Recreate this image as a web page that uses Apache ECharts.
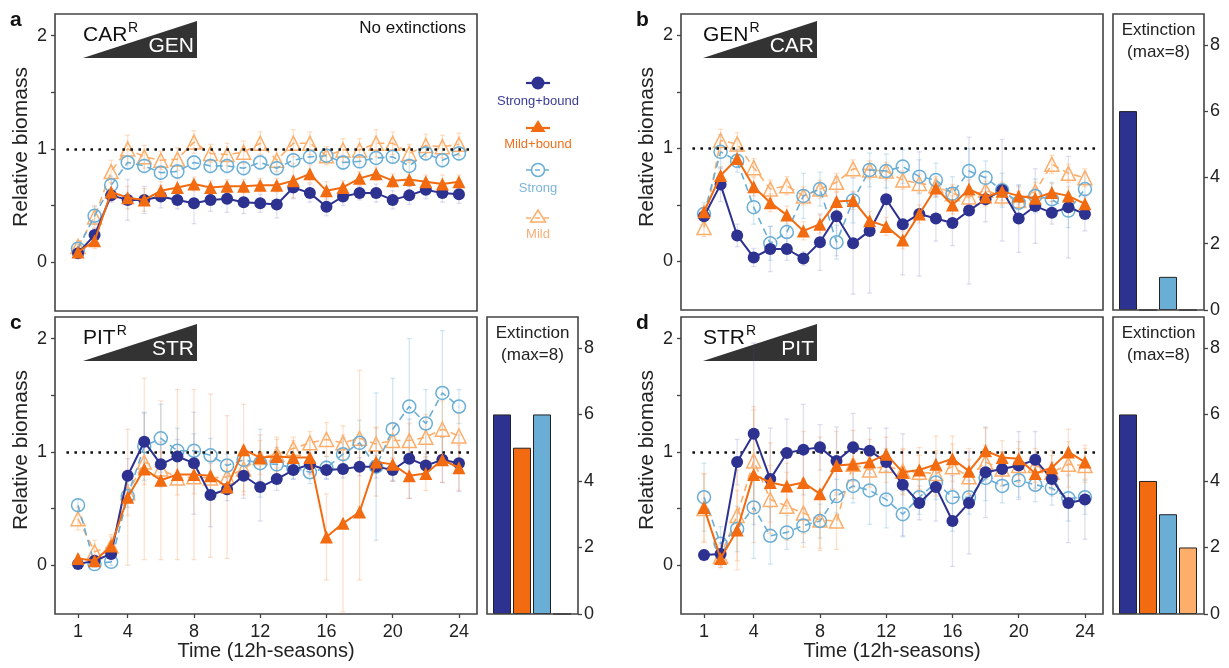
<!DOCTYPE html>
<html>
<head>
<meta charset="utf-8">
<script src="https://cdn.jsdelivr.net/npm/echarts@6/dist/echarts.min.js"></script>
<style>
  html, body { margin: 0; padding: 0; background: #fff; }
  #chart { width: 1229px; height: 668px; }
</style>
</head>
<body>
<div id="chart"></div>
<script>
// ---- time axis and tick labels ----
const seasons = [1,2,3,4,5,6,7,8,9,10,11,12,13,14,15,16,17,18,19,20,21,22,23,24];
const seasonTickLabels = [1,4,8,12,16,20,24];
const biomassTickMarks = [0,0.5,1,1.5,2];
const biomassTickLabels = [0,1,2];
const extinctionTickLabels = [0,2,4,6,8];
const treatments = ['Strong+bound','Mild+bound','Strong','Mild'];

// ---- a: CAR(R) -> GEN ----
const carGen_strongBound = [0.08,0.24,0.59,0.55,0.55,0.58,0.55,0.52,0.55,0.56,0.53,0.52,0.51,0.66,0.61,0.49,0.58,0.61,0.61,0.55,0.59,0.64,0.61,0.60];
const carGen_mildBound   = [0.09,0.19,0.62,0.57,0.55,0.63,0.66,0.69,0.66,0.67,0.67,0.68,0.68,0.72,0.78,0.63,0.66,0.74,0.78,0.72,0.73,0.71,0.69,0.71];
const carGen_strong      = [0.12,0.41,0.68,0.88,0.85,0.79,0.80,0.88,0.85,0.85,0.83,0.88,0.83,0.90,0.93,0.94,0.88,0.89,0.92,0.93,0.85,0.96,0.90,0.96];
const carGen_mild        = [0.14,0.40,0.80,1.00,0.93,0.90,0.91,1.06,0.96,0.95,0.97,1.05,0.90,1.05,1.05,0.94,0.99,0.99,1.05,1.05,0.96,1.03,1.02,1.04];
const carGen_strongBoundErr = [0.03,0.06,0.06,0.18,0.12,0.10,0.08,0.18,0.10,0.12,0.10,0.08,0.12,0.10,0.08,0.08,0.08,0.06,0.08,0.08,0.08,0.08,0.08,0.08];
const carGen_mildBoundErr   = [0.03,0.07,0.08,0.10,0.10,0.08,0.08,0.06,0.06,0.06,0.06,0.06,0.06,0.15,0.08,0.08,0.06,0.06,0.06,0.06,0.06,0.06,0.08,0.06];
const carGen_strongErr      = [0.04,0.08,0.08,0.06,0.06,0.06,0.06,0.06,0.06,0.06,0.06,0.06,0.06,0.06,0.06,0.06,0.06,0.06,0.06,0.06,0.06,0.06,0.06,0.06];
const carGen_mildErr        = [0.05,0.10,0.10,0.12,0.10,0.08,0.10,0.10,0.08,0.10,0.10,0.10,0.10,0.12,0.10,0.08,0.10,0.10,0.12,0.10,0.08,0.10,0.10,0.10];

// ---- b: GEN(R) -> CAR ----
const genCar_strongBound = [0.40,0.68,0.23,0.035,0.11,0.11,0.025,0.17,0.40,0.16,0.27,0.55,0.33,0.42,0.38,0.34,0.45,0.55,0.63,0.38,0.49,0.43,0.48,0.42];
const genCar_mildBound   = [0.44,0.76,0.91,0.66,0.52,0.41,0.27,0.33,0.53,0.54,0.36,0.31,0.19,0.42,0.65,0.50,0.64,0.57,0.62,0.58,0.56,0.61,0.58,0.51];
const genCar_strong      = [0.42,0.97,0.89,0.48,0.16,0.26,0.58,0.64,0.17,0.54,0.81,0.80,0.84,0.75,0.72,0.60,0.80,0.74,0.63,0.52,0.58,0.55,0.45,0.64];
const genCar_mild        = [0.30,1.07,1.04,0.83,0.64,0.67,0.58,0.64,0.70,0.82,0.81,0.80,0.72,0.69,0.67,0.60,0.57,0.63,0.58,0.54,0.62,0.86,0.78,0.74];
const genCar_strongBoundErr = [0.05,0.15,0.10,0.08,0.20,0.10,0.06,0.25,0.35,0.45,0.55,0.25,0.45,0.55,0.20,0.20,0.65,0.20,0.45,0.30,0.33,0.10,0.45,0.15];
const genCar_mildBoundErr   = [0.06,0.08,0.08,0.08,0.08,0.08,0.08,0.08,0.08,0.08,0.08,0.08,0.08,0.08,0.08,0.08,0.08,0.08,0.08,0.08,0.08,0.08,0.08,0.08];
const genCar_strongErr      = [0.10,0.15,0.10,0.15,0.15,0.15,0.20,0.15,0.15,0.20,0.15,0.15,0.15,0.15,0.15,0.15,0.20,0.15,0.15,0.15,0.15,0.15,0.15,0.15];
const genCar_mildErr        = [0.08,0.10,0.10,0.08,0.08,0.08,0.08,0.08,0.08,0.08,0.08,0.08,0.08,0.08,0.08,0.08,0.08,0.08,0.08,0.08,0.08,0.08,0.08,0.08];

// ---- c: PIT(R) -> STR ----
const pitStr_strongBound = [0.01,0.04,0.10,0.79,1.09,0.89,0.96,0.90,0.62,0.67,0.79,0.69,0.76,0.84,0.89,0.84,0.85,0.87,0.87,0.84,0.94,0.88,0.93,0.90];
const pitStr_mildBound   = [0.06,0.04,0.17,0.60,0.85,0.75,0.80,0.80,0.79,0.69,1.02,0.95,0.96,0.95,0.95,0.25,0.37,0.47,0.91,0.89,0.79,0.81,0.93,0.86];
const pitStr_strong      = [0.53,0.01,0.03,0.61,1.05,1.12,1.01,1.01,0.97,0.88,0.93,0.90,0.89,0.86,0.82,0.86,0.98,1.08,0.87,1.20,1.40,1.25,1.52,1.40];
const pitStr_mild        = [0.41,0.12,0.17,0.64,0.91,0.85,0.77,0.78,0.77,0.78,0.85,0.95,0.98,1.03,1.08,1.11,1.08,1.12,1.07,1.10,1.10,1.13,1.20,1.14];
const pitStr_strongBoundErr = [0.02,0.03,0.05,0.15,0.25,0.20,0.15,0.45,0.28,0.10,0.20,0.30,0.10,0.08,0.08,0.08,0.08,0.08,0.10,0.10,0.35,0.10,0.20,0.25];
const pitStr_mildBoundErr   = [0.03,0.03,0.08,0.60,0.80,0.70,0.75,0.75,0.72,0.63,0.40,0.20,0.15,0.15,0.15,0.38,0.78,0.60,0.30,0.15,0.20,0.15,0.20,0.20];
const pitStr_strongErr      = [0.05,0.03,0.03,0.10,0.30,0.30,0.20,0.15,0.15,0.10,0.10,0.30,0.15,0.10,0.10,0.10,0.15,0.20,0.65,0.45,0.60,0.30,0.55,0.15];
const pitStr_mildErr        = [0.10,0.10,0.10,0.20,0.20,0.15,0.15,0.15,0.15,0.15,0.20,0.15,0.15,0.10,0.10,0.15,0.15,0.60,0.15,0.15,0.15,0.20,0.25,0.20];

// ---- d: STR(R) -> PIT ----
const strPit_strongBound = [0.09,0.10,0.91,1.16,0.76,0.99,1.02,1.04,0.92,1.04,1.01,0.91,0.71,0.55,0.69,0.39,0.55,0.82,0.85,0.88,0.93,0.76,0.55,0.58];
const strPit_mildBound   = [0.51,0.06,0.31,0.80,0.73,0.70,0.73,0.63,0.88,0.89,0.91,0.98,0.82,0.84,0.89,0.94,0.83,1.01,0.95,0.94,0.81,0.86,1.00,0.91];
const strPit_strong      = [0.60,0.19,0.32,0.51,0.26,0.29,0.35,0.39,0.61,0.70,0.66,0.58,0.45,0.60,0.73,0.60,0.60,0.77,0.70,0.75,0.71,0.68,0.59,0.60];
const strPit_mild        = [0.50,0.08,0.44,0.92,0.58,0.52,0.46,0.40,0.39,0.89,0.84,0.88,0.83,0.82,0.81,0.87,0.78,0.91,0.85,0.88,0.88,0.82,0.89,0.88];
const strPit_strongBoundErr = [0.05,0.10,0.20,0.80,0.45,0.30,0.40,0.20,0.30,0.30,0.20,0.30,0.45,0.15,0.30,0.40,0.45,0.40,0.15,0.30,0.25,0.15,0.35,0.35];
const strPit_mildBoundErr   = [0.30,0.08,0.35,0.60,0.35,0.20,0.45,0.50,0.30,0.30,0.20,0.15,0.20,0.20,0.25,0.20,0.20,0.20,0.15,0.15,0.15,0.15,0.20,0.15];
const strPit_strongErr      = [0.30,0.15,0.20,0.45,0.25,0.15,0.15,0.15,0.15,0.15,0.30,0.25,0.20,0.15,0.15,0.30,0.15,0.20,0.15,0.15,0.15,0.15,0.20,0.15];
const strPit_mildErr        = [0.30,0.10,0.40,0.45,0.30,0.30,0.30,0.25,0.25,0.20,0.15,0.15,0.20,0.15,0.20,0.20,0.15,0.15,0.15,0.15,0.15,0.15,0.20,0.15];

// ---- extinctions per treatment (out of 8 replicates) ----
const extinction_genCar = [6,0,1,0];
const extinction_pitStr = [6,5,6,0];
const extinction_strPit = [6,4,3,2];

// ---- styling ----
const FONT = "'Liberation Sans', Arial, Helvetica, sans-serif";
const NAVY = '#2d3190', ORANGE = '#f26b10', SKY = '#6aaed6', PEACH = '#fdae6b';

const panels = [
  { letter:'a', left:55,  top:14,  height:297, showX:false, res:'CAR', inv:'GEN',
    data:[carGen_strongBound, carGen_mildBound, carGen_strong, carGen_mild],
    err:[carGen_strongBoundErr, carGen_mildBoundErr, carGen_strongErr, carGen_mildErr], ext:null },
  { letter:'b', left:681, top:14,  height:296, showX:false, res:'GEN', inv:'CAR',
    data:[genCar_strongBound, genCar_mildBound, genCar_strong, genCar_mild],
    err:[genCar_strongBoundErr, genCar_mildBoundErr, genCar_strongErr, genCar_mildErr], ext:extinction_genCar },
  { letter:'c', left:55,  top:317, height:297, showX:true, res:'PIT', inv:'STR',
    data:[pitStr_strongBound, pitStr_mildBound, pitStr_strong, pitStr_mild],
    err:[pitStr_strongBoundErr, pitStr_mildBoundErr, pitStr_strongErr, pitStr_mildErr], ext:extinction_pitStr },
  { letter:'d', left:681, top:317, height:297, showX:true, res:'STR', inv:'PIT',
    data:[strPit_strongBound, strPit_mildBound, strPit_strong, strPit_mild],
    err:[strPit_strongBoundErr, strPit_mildBoundErr, strPit_strongErr, strPit_mildErr], ext:extinction_strPit }
];
const PANEL_W = 422;

// per treatment: mark colour, pale error-bar colour, marker and line look
const seriesStyle = [
  { color:NAVY,   err:'rgba(70,74,170,0.17)',   symbol:'circle',   size:12, hollow:false, dash:'solid', width:2,   z:5 },
  { color:ORANGE, err:'rgba(242,107,16,0.2)',   symbol:'triangle', size:13, hollow:false, dash:'solid', width:2,   z:6 },
  { color:SKY,    err:'rgba(106,174,214,0.3)',  symbol:'circle',   size:13, hollow:true,  dash:[7,5],   width:1.6, z:4 },
  { color:PEACH,  err:'rgba(253,174,107,0.38)', symbol:'triangle', size:14, hollow:true,  dash:[7,5],   width:1.6, z:3 }
];

function errorBars(axisIdx, means, errs, color) {
  return {
    type:'custom', xAxisIndex:axisIdx, yAxisIndex:axisIdx, silent:true, clip:true, z:1,
    data: seasons.map((s, i) => [s, means[i] - errs[i], means[i] + errs[i]]),
    encode: { x:0, y:[1,2] },
    renderItem(params, api) {
      const lo = api.coord([api.value(0), api.value(1)]);
      const hi = api.coord([api.value(0), api.value(2)]);
      const c = 2.5, st = { stroke: color, lineWidth: 1.3 };
      return { type:'group', children:[
        { type:'line', shape:{ x1:lo[0], y1:lo[1], x2:hi[0], y2:hi[1] }, style:st },
        { type:'line', shape:{ x1:lo[0]-c, y1:lo[1], x2:lo[0]+c, y2:lo[1] }, style:st },
        { type:'line', shape:{ x1:hi[0]-c, y1:hi[1], x2:hi[0]+c, y2:hi[1] }, style:st }
      ]};
    }
  };
}

const option = {
  animation:false, backgroundColor:'#fff',
  textStyle:{ fontFamily:FONT },
  grid:[], xAxis:[], yAxis:[], series:[], graphic:[]
};

const tickStyle = { color:'#444', width:1.3 };
const labelStyle = { fontSize:18, color:'#222', fontFamily:FONT };

panels.forEach((p, k) => {
  option.grid.push({ left:p.left, top:p.top, width:PANEL_W, height:p.height,
    show:true, borderColor:'#444', borderWidth:1.6, backgroundColor:'transparent' });
  option.xAxis.push({ type:'value', gridIndex:k, min:-0.39, max:25.09, position:'bottom',
    axisLine:{ show:false, onZero:false }, splitLine:{ show:false },
    axisTick:{ show:p.showX, customValues:seasonTickLabels, length:4, lineStyle:tickStyle },
    axisLabel:{ show:p.showX, customValues:seasonTickLabels, margin:9, ...labelStyle } });
  option.yAxis.push({ type:'value', gridIndex:k, min:-0.43, max:2.19, position:'left',
    axisLine:{ show:false, onZero:false }, splitLine:{ show:false },
    axisTick:{ show:true, customValues:biomassTickMarks, length:4, lineStyle:tickStyle },
    axisLabel:{ customValues:biomassTickLabels, margin:8, ...labelStyle } });

  // error bars underneath everything else
  p.data.forEach((vals, j) => option.series.push(errorBars(k, vals, p.err[j], seriesStyle[j].err)));

  p.data.forEach((vals, j) => {
    const s = seriesStyle[j];
    const ser = {
      type:'line', name:treatments[j], xAxisIndex:k, yAxisIndex:k, z:s.z,
      data: seasons.map((t, i) => [t, vals[i]]),
      symbol:s.symbol, symbolSize:s.size, showSymbol:true,
      lineStyle:{ color:s.color, width:s.width, type:s.dash },
      itemStyle: s.hollow
        ? { color:'rgba(0,0,0,0)', borderColor:s.color, borderWidth:1.5 }
        : { color:s.color, borderColor:s.color, borderWidth:0 },
      emphasis:{ disabled:true }, silent:true
    };
    if (j === 0) {
      ser.markLine = { silent:true, symbol:'none', label:{ show:false },
        lineStyle:{ color:'#111', width:2.6, type:[2.6,5.4] },
        data:[[ { coord:[0.3,1] }, { coord:[24.7,1] } ]] };
    }
    option.series.push(ser);
  });

  // panel letter
  option.graphic.push({ type:'text', x:p.left - 45, y:p.top + 6,
    style:{ text:p.letter, font:`bold 21px ${FONT}`, fill:'#111', textAlign:'left', textVerticalAlign:'middle' } });
  // resident / invader badge
  const bx = p.left + (p.left > 300 ? 22 : 28), by = p.top;
  const resW = { CAR:44, GEN:45.5, PIT:32.7, STR:42 }[p.res];
  option.graphic.push(
    { type:'polygon', shape:{ points:[[bx, by+44],[bx+114, by+7],[bx+114, by+44]] }, style:{ fill:'#333' } },
    { type:'text', x:bx, y:by+21, style:{ text:p.res, font:`21px ${FONT}`, fill:'#111', textAlign:'left', textVerticalAlign:'middle' } },
    { type:'text', x:bx + resW + 1, y:by+14, style:{ text:'R', font:`14px ${FONT}`, fill:'#111', textAlign:'left', textVerticalAlign:'middle' } },
    { type:'text', x:bx+111, y:by+32, style:{ text:p.inv, font:`21px ${FONT}`, fill:'#fff', textAlign:'right', textVerticalAlign:'middle' } }
  );
  // y axis title
  option.graphic.push({ type:'text', x:p.left - 34, y:p.top + 133, rotation:Math.PI/2,
    style:{ text:'Relative biomass', font:`21px ${FONT}`, fill:'#222', textAlign:'center', textVerticalAlign:'middle' } });
  if (p.showX) {
    option.graphic.push({ type:'text', x:p.left + PANEL_W/2, y:p.top + p.height + 37,
      style:{ text:'Time (12h-seasons)', font:`20px ${FONT}`, fill:'#222', textAlign:'center', textVerticalAlign:'middle' } });
  }
});

// extinction bar panels (b, c, d)
const barColors = [NAVY, ORANGE, SKY, PEACH];
panels.forEach((p, k) => {
  if (!p.ext) return;
  const boxL = p.left + PANEL_W + 10, boxW = 91;
  const gi = option.grid.length;
  option.grid.push({ left:boxL + 5, top:p.top, width:80, height:p.height, show:false });
  option.xAxis.push({ type:'category', gridIndex:gi, data:treatments, show:false });
  option.yAxis.push({ type:'value', gridIndex:gi, position:'right', offset:6, min:0, max:8.93,
    axisLine:{ show:false, onZero:false }, splitLine:{ show:false },
    axisTick:{ show:true, customValues:extinctionTickLabels, length:4, lineStyle:tickStyle },
    axisLabel:{ customValues:extinctionTickLabels, margin:6, ...labelStyle } });
  option.series.push({ type:'bar', xAxisIndex:gi, yAxisIndex:gi, barWidth:18, silent:true,
    data: p.ext.map((v, i) => ({ value:v, itemStyle:{ color:barColors[i], borderColor:'#222', borderWidth:1 } })) });
  option.graphic.push(
    { type:'rect', shape:{ x:boxL, y:p.top, width:boxW, height:p.height }, style:{ fill:'none', stroke:'#444', lineWidth:1.6 }, z:10 },
    { type:'text', x:boxL + boxW/2, y:p.top + 16, style:{ text:'Extinction', font:`17px ${FONT}`, fill:'#222', textAlign:'center', textVerticalAlign:'middle' } },
    { type:'text', x:boxL + boxW/2, y:p.top + 38, style:{ text:'(max=8)', font:`17px ${FONT}`, fill:'#222', textAlign:'center', textVerticalAlign:'middle' } }
  );
});

// panel a note
option.graphic.push({ type:'text', x:466, y:28,
  style:{ text:'No extinctions', font:`17px ${FONT}`, fill:'#111', textAlign:'right', textVerticalAlign:'middle' } });

// legend column beside panel a
const LX = 538;
const legendRows = [
  { label:'Strong+bound', y:83,  color:NAVY,   text:'#3a3d94', kind:'circle',   hollow:false, dash:null },
  { label:'Mild+bound',   y:126, color:ORANGE, text:'#f07020', kind:'triangle', hollow:false, dash:null },
  { label:'Strong',       y:170, color:SKY,    text:'#7eb5da', kind:'circle',   hollow:true,  dash:[5,4] },
  { label:'Mild',         y:216, color:PEACH,  text:'#f8ae78', kind:'triangle', hollow:true,  dash:[5,4] }
];
legendRows.forEach(r => {
  option.graphic.push({ type:'line', shape:{ x1:LX-12, y1:r.y + (r.kind==='triangle'?2:0), x2:LX+12, y2:r.y + (r.kind==='triangle'?2:0) },
    style:{ stroke:r.color, lineWidth:r.hollow?1.5:2.2, lineDash:r.dash } });
  const st = r.hollow ? { fill:'none', stroke:r.color, lineWidth:1.5 } : { fill:r.color };
  if (r.kind === 'circle') {
    option.graphic.push({ type:'circle', shape:{ cx:LX, cy:r.y, r:6.5 }, style:st });
  } else {
    option.graphic.push({ type:'polygon', shape:{ points:[[LX, r.y-6],[LX+7.5, r.y+6],[LX-7.5, r.y+6]] }, style:st });
  }
  option.graphic.push({ type:'text', x:LX, y:r.y + 18,
    style:{ text:r.label, font:`13px ${FONT}`, fill:r.text, textAlign:'center', textVerticalAlign:'middle' } });
});

const chart = echarts.init(document.getElementById('chart'), null, { renderer:'canvas' });
chart.setOption(option);
</script>
</body>
</html>
